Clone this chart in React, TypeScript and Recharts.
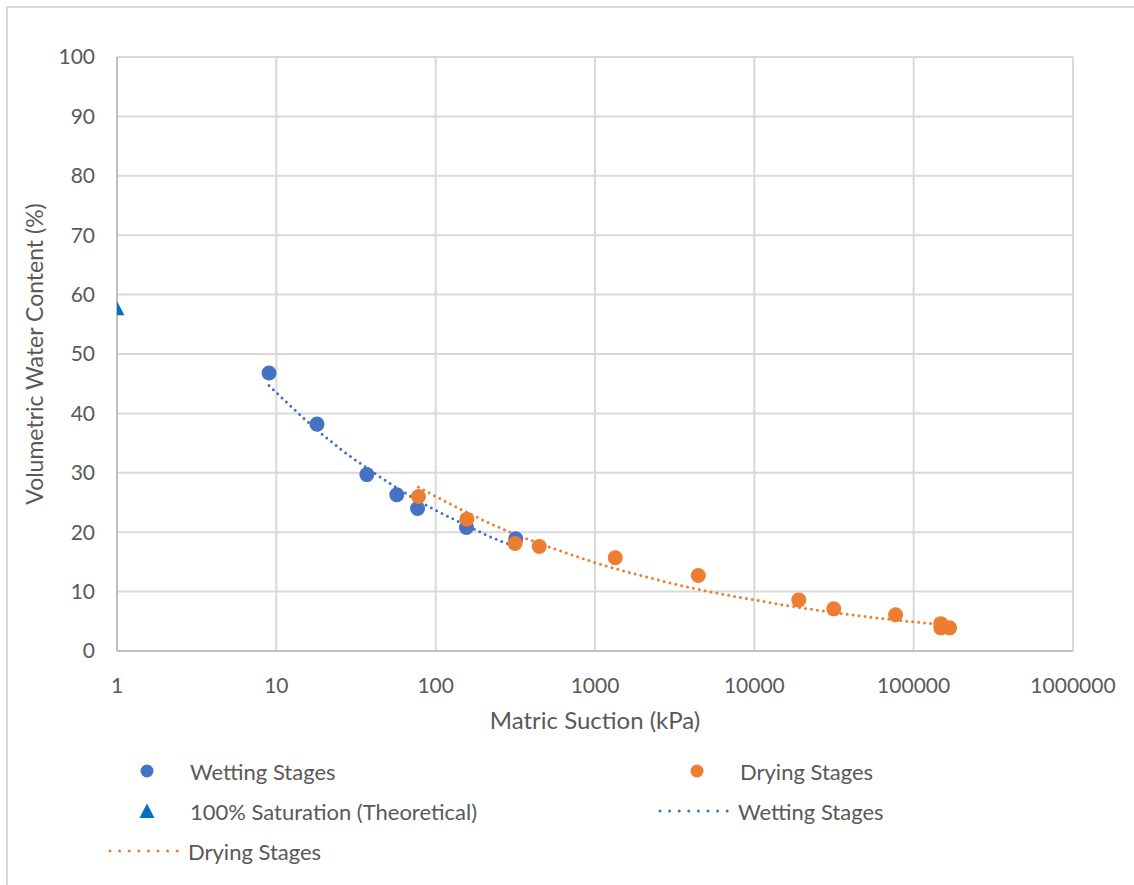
import { ComposedChart, Scatter, Line, XAxis, YAxis, CartesianGrid } from 'recharts';

const wettingSuction = [9, 18, 37, 57, 77, 156, 318];
const wettingVwc = [46.8, 38.2, 29.7, 26.3, 24.0, 20.8, 18.9];

const dryingSuction = [78, 157, 315, 447, 1340, 4450, 19000, 31500, 77000, 148000, 148000, 168000];
const dryingVwc = [26.0, 22.2, 18.1, 17.6, 15.7, 12.7, 8.6, 7.1, 6.1, 4.6, 3.9, 3.9];

const saturationSuction = [1];
const saturationVwc = [57.6];

// trendlines
const wettingTrendSuction = [9, 15, 25, 40, 60, 100, 160, 250, 318];
const wettingTrendVwc = [44.7, 39.1, 34.1, 30.2, 27.1, 23.7, 21.0, 18.6, 17.6];

const dryingTrendSuction = [78, 150, 300, 600, 1000, 2000, 5000, 10000, 20000, 50000, 100000, 168000];
const dryingTrendVwc = [27.6, 23.6, 19.9, 16.9, 14.9, 12.6, 10.1, 8.6, 7.25, 5.8, 4.9, 4.4];

const xTicks = [1, 10, 100, 1000, 10000, 100000, 1000000];
const yTicks = [0, 10, 20, 30, 40, 50, 60, 70, 80, 90, 100];

const BLUE = '#4472C4';
const ORANGE = '#ED7D31';
const TRI = '#0070C0';
const TEXT = '#595959';
const GRID = '#d9d9d9';
const FONT = 'Lato, "Noto Sans", sans-serif';

const pair = (xs: number[], ys: number[]) => xs.map((x, i) => ({ x, y: ys[i] }));

const wetting = pair(wettingSuction, wettingVwc);
const drying = pair(dryingSuction, dryingVwc);
const saturation = pair(saturationSuction, saturationVwc);
const wettingTrend = pair(wettingTrendSuction, wettingTrendVwc);
const dryingTrend = pair(dryingTrendSuction, dryingTrendVwc);

const Dot = (color: string) => (props: any) => (
  <circle cx={props.cx} cy={props.cy} r={7.5} fill={color} />
);

const Triangle = (props: any) => {
  const { cx, cy } = props;
  return (
    <polygon
      points={`${cx - 7.5},${cy + 6.5} ${cx + 7.5},${cy + 6.5} ${cx},${cy - 7.5}`}
      fill={TRI}
    />
  );
};

function LegendItem({ x, y, kind, color, label }: { x: number; y: number; kind: string; color: string; label: string }) {
  return (
    <div style={{ position: 'absolute', left: x, top: y - 14, height: 28, display: 'flex', alignItems: 'center' }}>
      <svg width={78} height={28}>
        {kind === 'circle' && <circle cx={39} cy={14} r={6.5} fill={color} />}
        {kind === 'triangle' && <polygon points="31.5,21 46.5,21 39,6.5" fill={color} />}
        {kind === 'line' && (
          <line x1={2} y1={14} x2={74} y2={14} stroke={color} strokeWidth={3}
            strokeDasharray="0 9.6" strokeLinecap="round" />
        )}
      </svg>
      <span style={{ marginLeft: kind === 'line' ? 2 : 4, fontSize: 22, color: TEXT, fontFamily: FONT, whiteSpace: 'nowrap' }}>
        {label}
      </span>
    </div>
  );
}

export default function App() {
  return (
    <div style={{ position: 'fixed', left: 0, top: 0, width: 1134, height: 885, background: '#fff', overflow: 'hidden' }}>
      <div style={{ position: 'absolute', left: 6, top: 6, width: 1140, height: 900, border: '2px solid #d9d9d9' }} />
      <div style={{ position: 'absolute', left: 0, top: 0 }}>
        <ComposedChart
          width={1134}
          height={885}
          margin={{ top: 57, right: 61, left: 17, bottom: 154 }}
          style={{ fontFamily: FONT }}
        >
          <CartesianGrid stroke={GRID} strokeWidth={2} />
          <XAxis
            dataKey="x"
            type="number"
            scale="log"
            domain={[1, 1000000]}
            ticks={xTicks}
            allowDataOverflow
            height={80}
            tickLine={false}
            tickSize={0}
            tickMargin={27}
            axisLine={{ stroke: '#bfbfbf', strokeWidth: 2 }}
            tick={{ fill: TEXT, fontSize: 21 }}
            label={{ value: 'Matric Suction (kPa)', position: 'insideBottom', offset: 2, fill: TEXT, fontSize: 24 }}
          />
          <YAxis
            dataKey="y"
            type="number"
            domain={[0, 100]}
            ticks={yTicks}
            width={100}
            tickLine={false}
            tickSize={0}
            tickMargin={22}
            axisLine={{ stroke: '#bfbfbf', strokeWidth: 2 }}
            tick={{ fill: TEXT, fontSize: 21 }}
            label={{
              value: 'Volumetric Water Content (%)',
              angle: -90,
              position: 'insideLeft',
              offset: 18,
              fill: TEXT,
              fontSize: 23,
              style: { textAnchor: 'middle' },
            }}
          />
          <Scatter data={wetting} shape={Dot(BLUE)} isAnimationActive={false} />
          <Scatter data={drying} shape={Dot(ORANGE)} isAnimationActive={false} />
          <Scatter data={saturation} shape={Triangle} isAnimationActive={false} />
          <Line
            data={wettingTrend}
            dataKey="y"
            type="monotone"
            stroke={BLUE}
            strokeWidth={3}
            strokeDasharray="0 6"
            strokeLinecap="round"
            dot={false}
            activeDot={false}
            isAnimationActive={false}
          />
          <Line
            data={dryingTrend}
            dataKey="y"
            type="monotone"
            stroke={ORANGE}
            strokeWidth={3}
            strokeDasharray="0 6"
            strokeLinecap="round"
            dot={false}
            activeDot={false}
            isAnimationActive={false}
          />
        </ComposedChart>
      </div>
      <LegendItem x={108} y={771} kind="circle" color={BLUE} label="Wetting Stages" />
      <LegendItem x={658} y={771} kind="circle" color={ORANGE} label="Drying Stages" />
      <LegendItem x={108} y={811} kind="triangle" color={TRI} label="100% Saturation (Theoretical)" />
      <LegendItem x={658} y={811} kind="line" color={BLUE} label="Wetting Stages" />
      <LegendItem x={108} y={851} kind="line" color={ORANGE} label="Drying Stages" />
    </div>
  );
}
